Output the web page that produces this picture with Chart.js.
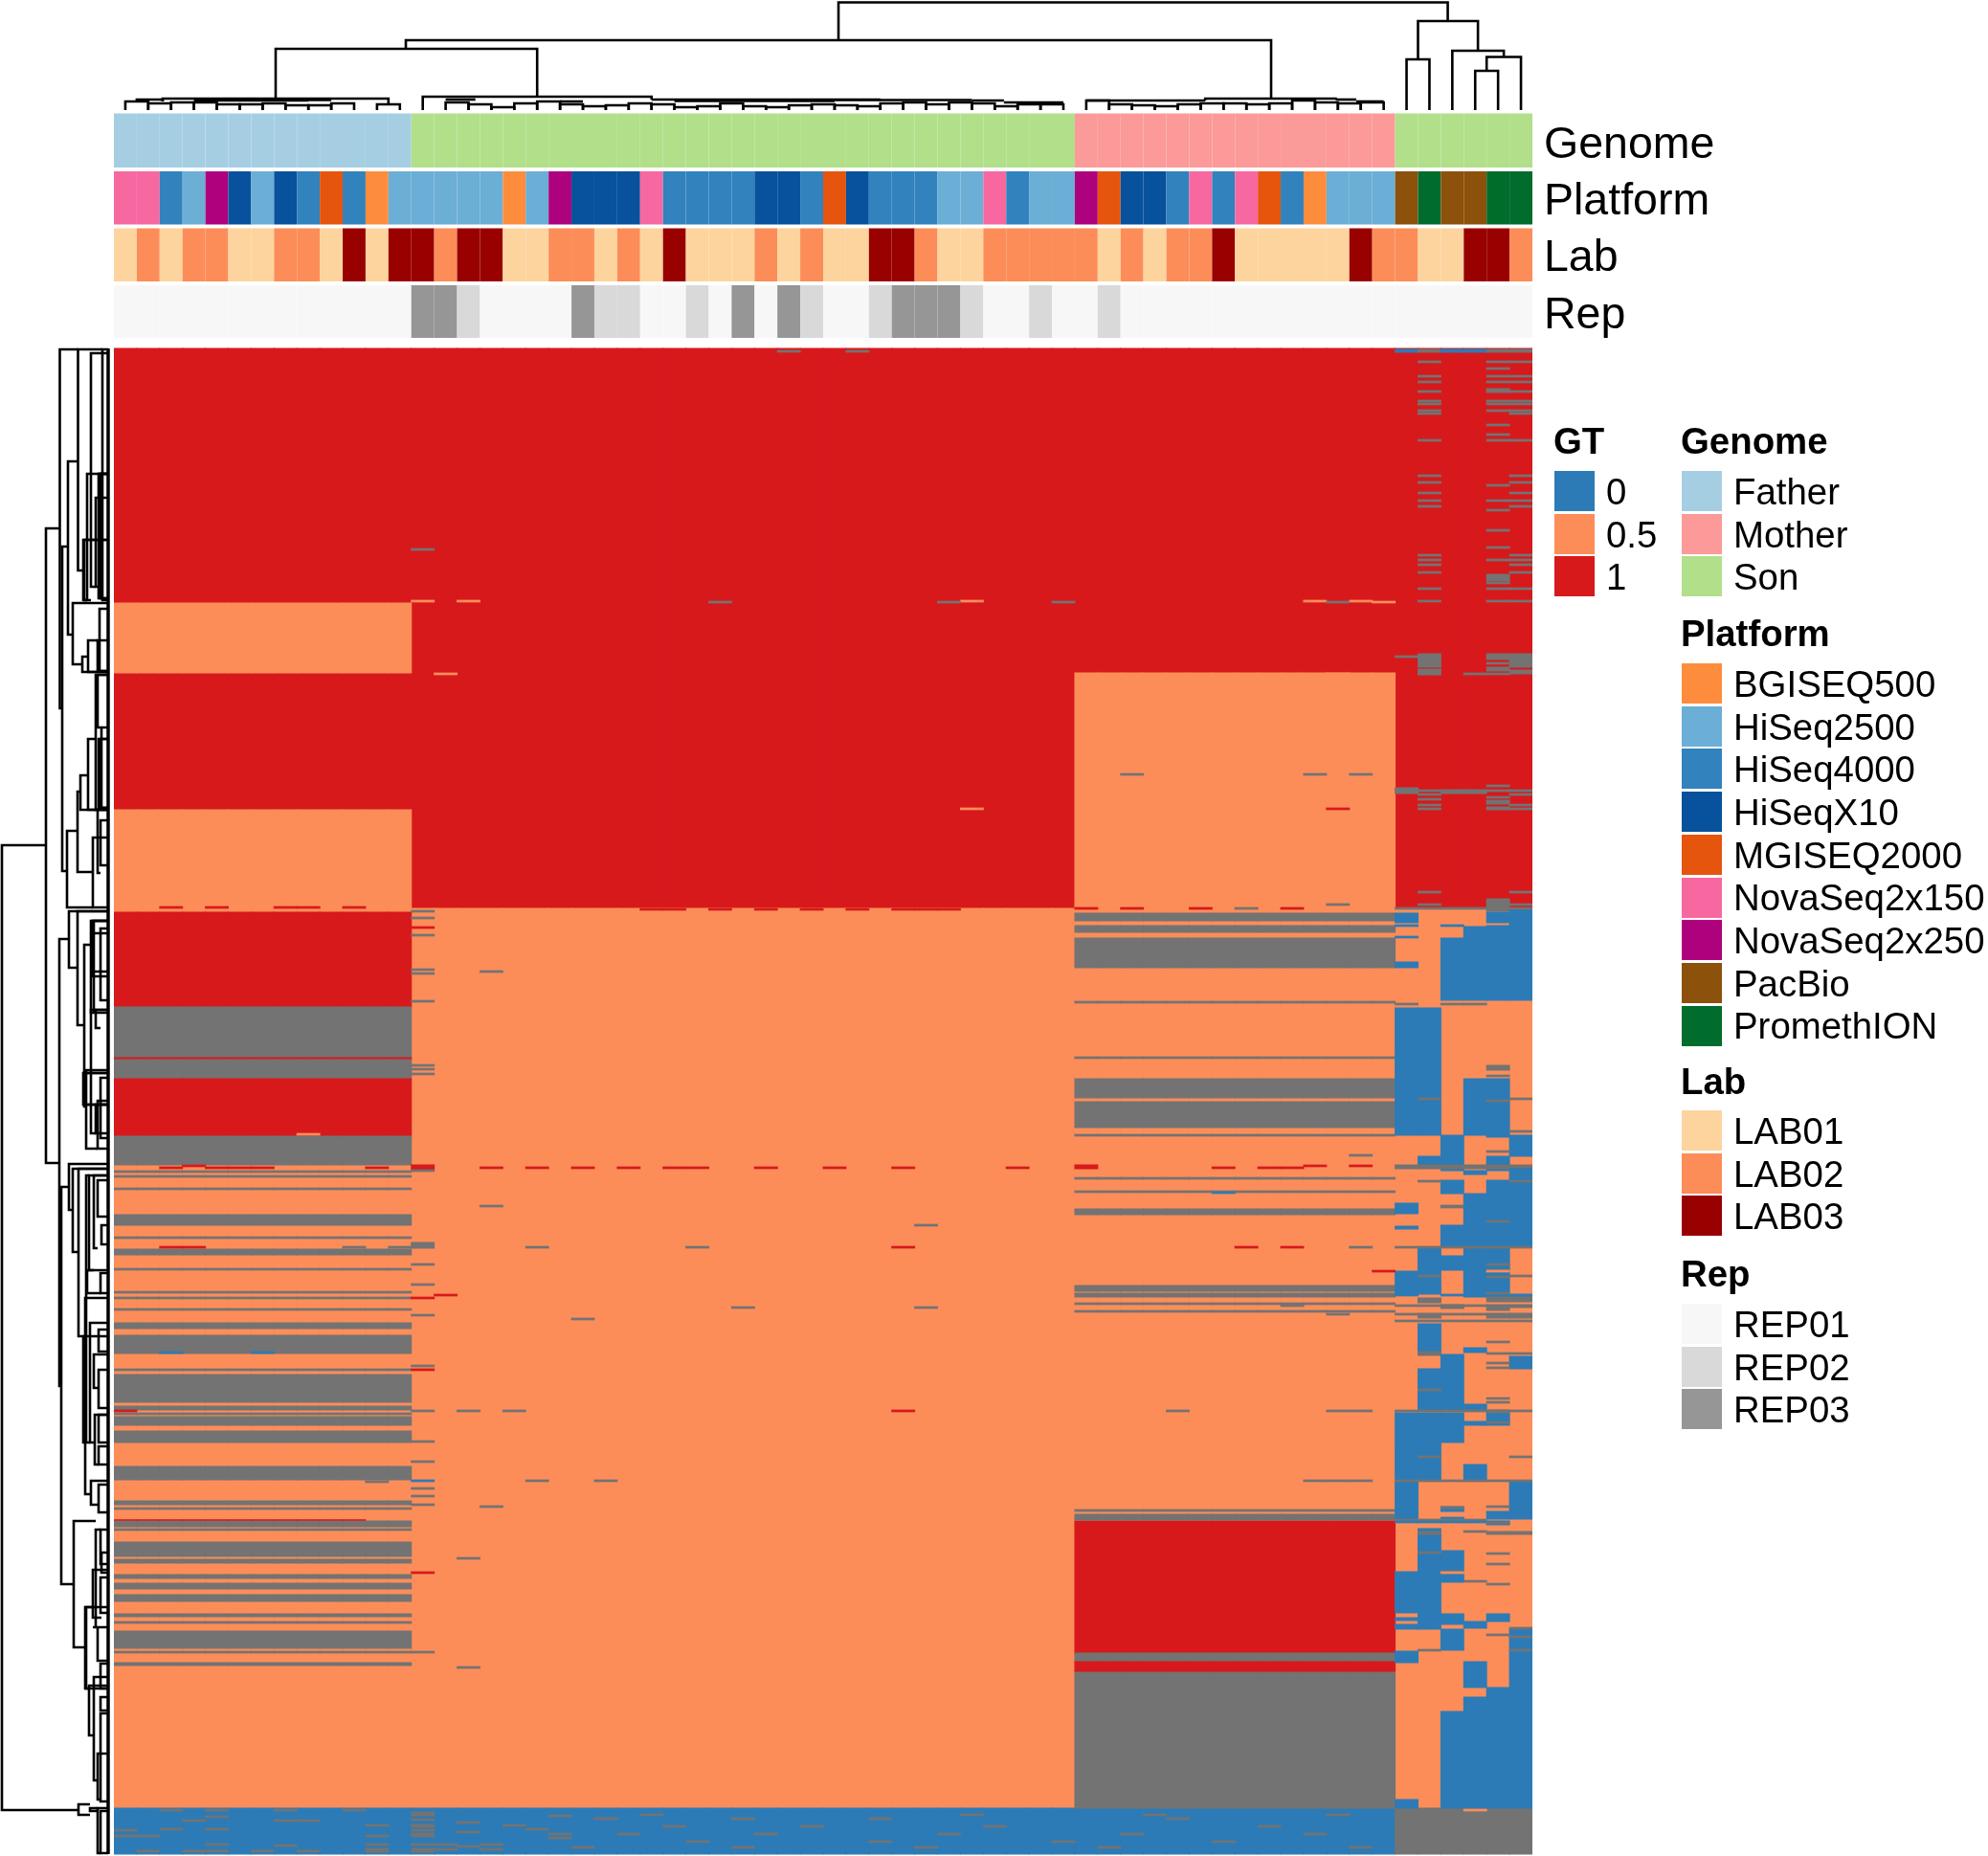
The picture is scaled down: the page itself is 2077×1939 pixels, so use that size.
<!DOCTYPE html>
<html><head><meta charset="utf-8">
<style>
html,body{margin:0;padding:0;background:#fff;width:2077px;height:1939px;overflow:hidden}
canvas{position:absolute;top:0;left:0}
.t{position:absolute;font-family:"Liberation Sans",Arial,sans-serif;color:#000;white-space:nowrap;line-height:1}
.s{position:absolute;width:42px;height:42px}
</style>
<script src="https://cdn.jsdelivr.net/npm/chart.js@4"></script>
</head><body>
<canvas id="main" width="2077" height="1939"></canvas>
<canvas id="left" width="119" height="1939"></canvas>
<div id="texts"></div>
<script>
const N = null, H = 0.5;
const genome = [..."FFFFFFFFFFFFF","SSSSSSSSSSSSSSSSSSSSSSSSSSSSS","MMMMMMMMMMMMMM","SSSSSS"].join("").split("");
const platform = "N5 N5 H4 H2 N2 X H2 X H4 M H4 B H2 H2 H2 H2 H2 B H2 N2 X X X N5 H4 H4 H4 H4 X X H4 M X H4 H4 H4 H2 H2 N5 H4 H2 H2 N2 M X X H4 N5 H4 N5 M H4 B H2 H2 H2 P O P P O O".split(" ");
const lab = "1 2 1 2 2 1 1 2 2 1 3 1 3 3 2 3 3 1 1 2 2 1 2 1 3 1 1 1 2 1 2 1 1 3 3 2 1 1 2 2 2 2 2 1 2 1 2 2 3 1 1 1 1 1 3 2 2 1 1 3 3 2".split(" ");
const rep = "1 1 1 1 1 1 1 1 1 1 1 1 1 3 3 2 1 1 1 1 3 2 2 1 1 2 1 3 1 3 2 1 1 2 3 3 3 2 1 1 2 1 1 2 1 1 1 1 1 1 1 1 1 1 1 1 1 1 1 1 1 1".split(" ");
const categories = genome.map((g,i)=>g+(i+1));

// Heat map: [firstRow,lastRow,GT,firstColumn,lastColumn], painted in order
const gtBlocks = [
 [364,949,1,0,61],[949,1889,H,0,61],[1889,1937,0,0,55],[1889,1937,N,56,61],
 [630,703,H,0,12],[846,949,H,0,12],[953,1052,1,0,12],[1052,1105,N,0,12],[1105,1107,1,0,12],[1107,1127,N,0,12],[1127,1187,1,0,12],[1187,1217,N,0,12],
 [703,949,H,42,55],[1589,1727,1,42,55],[1736,1746,1,42,55],
 [1217,1221,1,42,42],[1217,1222,1,13,13],[1298,1304,N,13,13],[1893,1897,N,13,13],[1906,1909,N,13,13],[1915,1919,N,13,13],[1931,1935,N,13,13],[1931,1935,N,11,11],
 [365,368,0,56,56],[365,368,N,57,57],[365,368,0,58,59],[365,368,N,60,61],
 [406,410,N,60,60],[600,607,N,60,60],[683,697,N,57,57],[683,689,N,60,60],[683,697,N,61,61],[697,701,N,60,60],[699,705,N,57,57],[700,704,N,61,61],
 [823,829,N,56,56],[825,829,N,58,59],[836,840,N,60,60],[843,846,N,60,60],[939,952,N,60,60],
 [954,964,0,56,56],[1005,1011,0,56,56],[980,1045,0,58,58],[968,1045,0,59,59],[953,964,0,60,60],[967,1045,0,60,60],[950,1045,0,61,61],
 [1053,1186,0,56,57],[1127,1186,0,59,60],[1113,1118,N,60,60],
 [1186,1223,0,58,58],[1186,1208,0,61,61],[1186,1188,0,60,60],[1208,1223,0,60,60],[1208,1217,0,57,57],[1217,1221,N,56,61],[1221,1233,0,61,61],[1223,1227,0,59,59],
 [1233,1247,0,58,58],[1233,1303,0,60,61],[1247,1303,0,59,59],[1280,1303,0,58,58],[1257,1268,0,56,56],[1281,1284,0,56,56],
 [1304,1352,0,57,57],[1312,1327,0,58,58],[1304,1355,0,59,60],[1328,1352,0,56,56],[1352,1355,0,61,61],
 [1356,1361,N,57,57],[1355,1360,N,60,61],[1363,1367,N,58,58],[1363,1369,N,60,60],[1363,1366,N,61,61],[1372,1377,N,57,57],[1372,1377,N,60,61],
 [1383,1413,0,57,57],[1412,1416,N,57,57],[1408,1413,0,59,59],[1415,1473,0,58,58],[1430,1473,0,57,57],[1417,1430,0,61,61],[1467,1473,0,59,59],
 [1473,1477,N,60,60],[1476,1507,0,56,58],[1477,1485,0,60,60],[1485,1489,0,59,60],
 [1507,1546,0,56,57],[1530,1546,0,59,59],[1548,1587,0,56,56],[1548,1587,0,61,61],[1574,1579,0,58,58],[1579,1587,0,60,60],[1589,1593,0,60,60],
 [1597,1620,0,57,57],[1600,1603,N,57,57],[1600,1603,N,60,61],[1620,1702,0,57,57],[1620,1642,0,58,58],[1642,1685,0,56,56],[1644,1653,0,58,58],
 [1686,1697,0,58,58],[1694,1701,0,59,59],[1686,1694,0,60,60],[1690,1693,0,56,56],[1697,1702,0,56,56],
 [1702,1724,0,58,58],[1702,1889,0,61,61],[1725,1737,0,56,56],[1736,1763,0,59,59],[1763,1889,0,60,60],[1773,1889,0,59,59],[1788,1889,0,58,58],[1880,1889,0,56,56],
 [1587.7,1588.3,1,0,10]
];
// Rows with no call across a whole Father or Mother column range
const fatherNaBands = [[1269,1280],[1305,1311],[1382,1388],[1395,1414],[1436,1465],[1469,1473],[1480,1489],[1495,1507],[1532,1546],[1568,1572],[1589,1595],[1611,1626],[1629,1633],[1645,1649],[1654,1660],[1666,1673],[1686,1689],[1704,1722],[1737,1740]];
const fatherNaRows = [1224,1229,1242,1293,1326,1350,1356,1368,1431,1477,1576,1598,1695,1726];
const motherNaBands = [[954,962],[967,974],[980,1011],[1127,1147],[1151,1178],[1263,1269],[1343,1349],[1351,1355],[1582,1588],[1727,1736],[1746,1889]];
const motherNaRows = [1047,1105,1186,1231,1245,1362,1370,1578];
// Single thin rows: [row,GT,...columns]
const gtLines = [
 [367,N,29,32],[574,N,13],[628,H,13,15,37,52,54],[629,N,26,36,41,53],[704,H,14,53],[845,H,37],[809,N,44,52,54],[845,1,53],
 [948,1,2,4,7,8,10],[949,1,42,44,47,51],[949,N,49],[945,N,53],[950,1,23,24,26,28,30,32,34,35,36],
 [952,N,13],[959,N,13],[969,1,13],[977,N,13],[1013,N,13],[1015,N,16],[1017,N,13],[1046,N,13],[1113,N,13],[1117,N,13],[1122,N,13],
 [1185,H,8],[1220,1,2,4,5,6,11,16,18,20,22,24,25,28,31,34,39,48,50,51],[1218,1,3,52,54],[1223,N,13],[1207,N,54],
 [1246,0,48],[1260,N,16],[1261,N,58],[1280,N,35],[1303,N,10,12,18,25,54],[1303,1,2,3,34,49,51],[1321,N,13],[1328,1,55],[1342,N,13],[1353,1,14],[1356,1,13],[1364,N,51],[1366,N,27,35],[1373,N,53],[1374,N,13],[1378,N,20],
 [1413,0,2,6],[1427,N,13],[1431,1,13],[1474,1,0,34],[1474,N,13,15,17,46,53,54],[1506,N,13],[1527,N,13],[1547,0,13],[1547,N,18,21,52,53,54],[1548,N,11],[1555,N,13],[1563,N,13],[1572,N,13],[1574,N,16],
 [1628,N,15],[1643,1,13],[1726,N,13],[1742,N,15],
 [378,N,57,60,61],[385,N,60],[393,N,57,60,61],[399,N,57,60,61],[409,N,57,61],[419,N,57,60,61],[422,N,57,60,61],[429,N,57,60,61],[432,N,57,61],[444,N,60],[454,N,60],[460,N,57,60,61],
 [497,N,57,61],[504,N,57,61],[507,N,60],[515,N,57,61],[523,N,57,60,61],[529,N,57,61],[533,N,60],[554,N,60],[572,N,60],[580,N,57,61],[585,N,57,60,61],[590,N,57,61],[598,N,57,61],[609,N,60],[615,N,57,60,61],[628,N,57,60,61],[629,H,55],
 [686,N,56],[693,N,60],[704,N,59,60],[821,N,60],[826,N,57,60,61],[830,N,57,61],[833,N,60],[835,N,57],[841,N,57,61],[845,N,57,61],[932,N,57,61],[945,N,57,61],[949,N,56,57,58,59,61],
 [967,0,56,58],[979,0,56],[1049,N,56,58,59],[1124,N,60],[1148,N,57,61],[1150,N,60],[1182,N,61],[1203,N,60],[1234,N,57,61],[1260,N,58],[1276,N,60],[1303,N,56,57,58,59,60,61],
 [1321,N,60],[1327,N,60],[1328,H,60],[1333,N,57,61],[1334,N,60],[1351,N,60],[1353,0,56,58],[1364,N,56,57,58,59],[1373,N,56,58,59],[1380,N,56,57,58,59,60,61],[1402,N,60],[1414,N,60,61],[1424,N,60],[1429,N,60],
 [1452,N,57],[1461,N,60],[1465,N,60],[1474,N,56,57,58,59,60,61],[1486,N,60],[1522,N,57,61],[1547,N,56,57,58,59,60,61],[1575,N,58],[1574,N,60],[1586,0,58],[1588,N,56,57,58,59],[1590,0,56,57,58,59],[1591,N,60],[1600,N,59],
 [1622,N,57],[1623,N,60],[1634,N,60],[1642,N,58],[1643,H,58],[1652,N,59],[1655,N,60],[1701,N,61],[1708,N,60],[1710,N,61],[1724,N,61,57],[1891,H,59],
 [1891,N,2,4,7,10],[1902,N,3,7,8],[1898,N,4],[1907,N,11,17],[1911,N,2,4,18],[1912,N,0,13],[1918,N,0,1,11],[1927,N,4,11,13,14,16],[1928,N,7],[1934,N,1,3,4,6,8],[1901,N,13],[1932,N,14,16],[1904,N,15],[1914,N,15],[1929,N,15],[1897,N,19],[1916,N,19],[1920,N,19],
 [1900,N,21,27,33,46],[1908,N,24,30,38,50],[1916,N,22,28,36,44,52],[1924,N,25,33,41,48],[1930,N,20,27,35,43,54],[1896,N,23,37,45,53]
];
// Column dendrogram: [columnA,rowA,columnB,rowB,joinRow]
const topMerges = [
 [31.17,42,57.8,22,2.5],[12.26,51,50.08,103,42],[6.57,103,18,101,51],[56.5,62,59.12,53,22],[56,115,57,115,62],[58,115,60.25,59.5,53],[59.5,74,61,115,59.5],[59,115,60,115,74],
 [1.63,106,11.5,109,103],[0.5,106,1.63,106,104],[5,104.5,9,104.5,104.5],[3,105,8,105,105],
 [0,115,1,115,106],[1,115,2,115,108],[2,115,3,115,107],[3,115,4,115,107],[4,115,5,115,109],[5,115,6,115,109],[6,115,7,115,108],[7,115,8,115,110],[8,115,9,115,110],[9,115,10,115,108],[11,115,12,115,109],
 [13,115,23,104,101],[23,104,33,104,104],[28,104.5,37,104.5,104.5],[37,105,38.4,105,105],[38.4,107,41,107,107],[14,104,15.3,104,104],[19,106,20,106,106],[24,105.5,31,105.5,105.5],
 [14,115,15,115,107],[15,115,16,115,109],[16,115,17,115,112],[17,115,18,115,108],[18,115,19,115,106],[19,115,20,115,109],[20,115,21,115,111],[21,115,22,115,110],[22,115,23,115,108],[23,115,24,115,109],[24,115,25,115,112],[25,115,26,115,111],[26,115,27,115,108],[27,115,28,115,111],[28,115,29,115,112],[29,115,30,115,110],[30,115,31,115,109],[31,115,32,115,110],[32,115,33,115,111],[33,115,34,115,108],[34,115,35,115,107],[35,115,36,115,109],[36,115,37,115,107],[37,115,38,115,108],[38,115,39,115,111],[39,115,40,115,109],[40,115,41,115,109],
 [47.2,105,52.9,104,103],[42,105,47.2,105,105],[52.9,104,53.8,104,104],[53.8,106,55,106,106],
 [42,115,43,115,105],[43,115,44,115,109],[44,115,45,115,110],[45,115,46,115,111],[46,115,47,115,109],[47,115,48,115,108],[48,115,49,115,108],[49,115,50,115,109],[50,115,51,115,108],[51,115,52,115,105],[52,115,53,115,107],[53,115,54,115,108],[54,115,55,115,107]
];
// Row dendrogram: [joinHeight,rowA,heightA,rowB,heightB]
const leftMerges = [
 [113,364,113,1937,113],
 [2,883,48,1891,82],[48,552,62.5,1215,62],[62.5,365,81.5,740,65],[65,571,71,910,70],[71,482,81.5,663,76],[81.5,365,107,596,88],
 [88,564,113,627,91],[87,564,113,627,91],[91,495,113,627,95],[95,369,113,613,100],[100,520,113,613,104],[104,495,113,625,106],[105.5,495,113,625,113],[107,365,113,627,113],[103,495,113,625,113],
 [76,630,113,694,86],[86,686,92,702,113],[92,669,102,702,113],[102,669,113,701,113],[104,636,113,701,113],[102,705,113,760,105],
 [70,868,81,948,97],[81,827,84,911,97],[84,810,92,846,102],[92,772,100,846,113],[100,705,113,846,113],[103,772,113,844,113],[105,772,113,844,113],[106,760,113,844,113],[97,875,113,948,113],[102,846,113,912,105],[105,857,113,904,113],
 [62,981,72,1448,64],[72,952,113,1011,81],[81,952,113,1071,88],[88,987,95,1156,90],[95,962,113,1058,97],[96,975,113,1015,113],[96.5,962,113,1020,113],[98,962,113,1058,113],[105,970,113,1045,113],[100,1055,113,1074,105],
 [95,1055,113,1184,100],[100,1154,113,1184,113],[105,1126,113,1189,113],[90,1118,113,1200,102],[87,1121,113,1154,113],[88,1121,113,1154,113],[102,1150,113,1200,113],
 [64,1240,72,1655,77],[72,1216,113,1264,76],[76,1221,113,1308,82],[82,1221,113,1396,90],[90,1228,93,1507,94],[93,1228,113,1327,98],[98,1228,113,1304,102],[102,1233,113,1271,113],[106,1280,113,1300,113],[91,1327,113,1351,105],[105,1330,113,1351,113],
 [87,1396,113,1507,89],[89,1356,113,1561,94],[94,1382,113,1507,98],[98,1415,113,1450,103],[103,1389,113,1412,113],[103,1431,113,1471,113],[99,1478,113,1530,103],[103,1478,113,1507,113],[103,1511,113,1530,113],[95,1547,113,1572,103],[103,1551,113,1580,113],
 [77,1589,100,1721,89],[100,1598,105,1700,97],[97,1640,113,1690,106],[105,1598,113,1634,113],[106,1622,113,1643,113],[105,1648,113,1685,113],[89,1679,98,1764,93],[102,1700,113,1735,113],[93,1761,113,1813,98],[90,1679,113,1764,113],[98,1752,113,1860,102],[102,1832,113,1880,105],[105,1790,113,1882,113],[105,1738,113,1764,113],[105,1773,113,1787,113],
 [82,1885,94,1896,94],[94,1892,102,1889,102],[102,1889,113,1936,105],[105,1892,113,1936,113]
];
const legendGT = [["0","#2C7BB6"],["0.5","#FC8D59"],["1","#D7191C"]];
const legendGenome = [["Father","#A6CEE3"],["Mother","#FB9A99"],["Son","#B2DF8A"]];
const legendPlatform = [["BGISEQ500","#FD8D3C"],["HiSeq2500","#6BAED6"],["HiSeq4000","#3182BD"],["HiSeqX10","#08519C"],["MGISEQ2000","#E6550D"],["NovaSeq2x150","#F768A1"],["NovaSeq2x250","#AE017E"],["PacBio","#8C510A"],["PromethION","#006D2C"]];
const legendLab = [["LAB01","#FDD49E"],["LAB02","#FC8D59"],["LAB03","#990000"]];
const legendRep = [["REP01","#F7F7F7"],["REP02","#D9D9D9"],["REP03","#969696"]];

const colorOf = list => Object.fromEntries(list);
const gtColor = v => v===N ? "#737373" : colorOf(legendGT)[String(v)];
const genomeCol = {F:"Father",M:"Mother",S:"Son"};
const platCol = {B:"BGISEQ500",H2:"HiSeq2500",H4:"HiSeq4000",X:"HiSeqX10",M:"MGISEQ2000",N5:"NovaSeq2x150",N2:"NovaSeq2x250",P:"PacBio",O:"PromethION"};
const col = categories.map((_,i)=>i);
const datasets = [];
const track = (lo,hi,colors)=>datasets.push({type:"bar",data:col.map(()=>[lo,hi]),backgroundColor:colors,inflateAmount:0,grouped:false,borderWidth:0,barPercentage:1,categoryPercentage:1});
track(118.5,175,genome.map(g=>colorOf(legendGenome)[genomeCol[g]]));
track(179,234.5,platform.map(p=>colorOf(legendPlatform)[platCol[p]]));
track(238.5,294,lab.map(l=>colorOf(legendLab)["LAB0"+l]));
track(298,353,rep.map(r=>colorOf(legendRep)["REP0"+r]));
const cell = (a,b,v,has)=>datasets.push({type:"bar",data:col.map(c=>has(c)?[a,b]:null),backgroundColor:gtColor(v),inflateAmount:0.5,grouped:false,borderWidth:0,barPercentage:1,categoryPercentage:1});
const thin = 0.85;
gtBlocks.slice(0,14).forEach(([a,b,v,c0,c1])=>cell(a,b,v,c=>c>=c0&&c<=c1));
fatherNaBands.forEach(([a,b])=>cell(a,b,N,c=>c<=12));
fatherNaRows.forEach(r=>cell(r-thin,r+thin,N,c=>c<=12));
motherNaBands.forEach(([a,b])=>cell(a,b,N,c=>c>=42&&c<=55));
motherNaRows.forEach(r=>cell(r-thin,r+thin,N,c=>c>=42&&c<=55));
gtBlocks.slice(14).forEach(([a,b,v,c0,c1])=>cell(a,b,v,c=>c>=c0&&c<=c1));
gtLines.forEach(([r,v,...cs])=>cell(r-thin,r+thin,v,c=>cs.includes(c)));
datasets.forEach((d,i)=>{d.order=-i;});
const lineStyle = {type:"line",borderColor:"#000",borderWidth:2.6,pointRadius:0,tension:0,fill:false,clip:false,borderJoinStyle:"miter",order:-99999};
topMerges.forEach(([xa,ya,xb,yb,yp])=>datasets.push({...lineStyle,xAxisID:"xd",yAxisID:"y",data:[{x:xa,y:ya},{x:xa,y:yp},{x:xb,y:yp},{x:xb,y:yb}]}));

const hidden = {display:false,grid:{display:false}};
new Chart(document.getElementById("main"),{
 data:{labels:categories,datasets},
 options:{responsive:false,animation:false,events:[],
  layout:{padding:{left:119,right:476,top:0,bottom:0}},
  plugins:{legend:{display:false},tooltip:{enabled:false}},
  scales:{
   x:{type:"category",...hidden},
   xd:{type:"linear",axis:"x",min:-0.5,max:61.5,...hidden},
   y:{type:"linear",min:0,max:1939,reverse:true,...hidden}
  }}
});
new Chart(document.getElementById("left"),{
 type:"line",
 data:{datasets:leftMerges.map(([xp,y1,x1,y2,x2],i)=>({...lineStyle,borderWidth:i===0?3.5:2.6,data:[{x:x1,y:y1},{x:xp,y:y1},{x:xp,y:y2},{x:x2,y:y2}]}))},
 options:{responsive:false,animation:false,events:[],
  layout:{padding:0},
  plugins:{legend:{display:false},tooltip:{enabled:false}},
  scales:{x:{type:"linear",min:0,max:119,...hidden},y:{type:"linear",min:0,max:1939,reverse:true,...hidden}}}
});

const host = document.getElementById("texts");
const text = (s,x,cy,size,bold)=>{const e=document.createElement("div");e.className="t";e.textContent=s;e.style.cssText=`left:${x}px;top:${cy-size/2}px;font-size:${size}px;font-weight:${bold?700:400}`;host.appendChild(e);};
[["Genome",149],["Platform",208],["Lab",267],["Rep",327]].forEach(([s,y])=>text(s,1613,y,46.5,false));
const legend = (title,items,x,titleY,swatchY)=>{
 text(title,x,titleY,38.4,true);
 items.forEach(([s,c],i)=>{
  const y=swatchY+i*44.7;
  const b=document.createElement("div");b.className="s";b.style.cssText=`left:${x+1}px;top:${y}px;background:${c}`;host.appendChild(b);
  text(s,x+55,y+22,38.4,false);
 });
};
legend("GT",legendGT,1623,461,492);
legend("Genome",legendGenome,1756,461,492);
legend("Platform",legendPlatform,1756,662,693);
legend("Lab",legendLab,1756,1130,1160);
legend("Rep",legendRep,1756,1331,1362);
</script>
</body></html>
